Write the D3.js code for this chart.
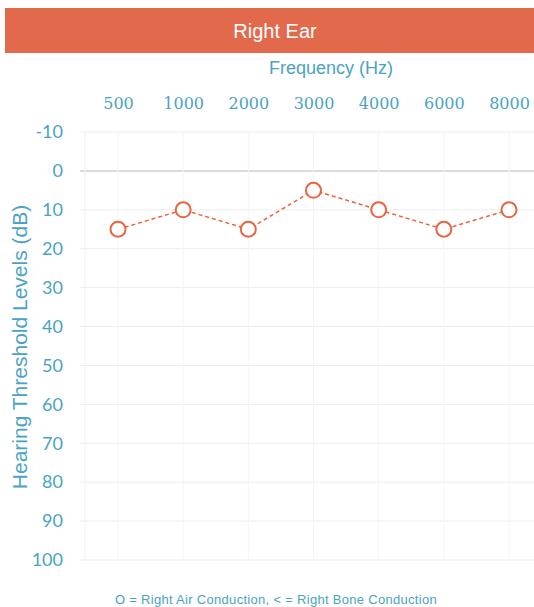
<!DOCTYPE html>
<html>
<head>
<meta charset="utf-8">
<script src="https://cdn.jsdelivr.net/npm/d3@7"></script>
<style>
  body { margin: 0; background: #fff; }
  svg { display: block; }
</style>
</head>
<body>
<div id="container"></div>
<script>
const frequencies = ['500', '1000', '2000', '3000', '4000', '6000', '8000'];
const airConduction = [15, 10, 15, 5, 10, 15, 10];
const dbTicks = [-10, 0, 10, 20, 30, 40, 50, 60, 70, 80, 90, 100];

const w = 534;
const h = 607;
const blue = '#4aa3c4';
const red = '#e8643f';

const svg = d3.select('#container').append('svg')
  .attr('width', w)
  .attr('height', h);

// title bar
svg.append('rect')
  .attr('x', 5).attr('y', 8)
  .attr('width', w - 5).attr('height', 45)
  .attr('fill', '#e2694c');
svg.append('text')
  .attr('x', 275).attr('y', 38)
  .attr('text-anchor', 'middle')
  .attr('fill', '#fff')
  .style('font', '20px "Liberation Sans", Arial, sans-serif')
  .text('Right Ear');

svg.append('text')
  .attr('x', 331).attr('y', 74)
  .attr('text-anchor', 'middle')
  .attr('fill', blue)
  .style('font', '18px "Liberation Sans", Arial, sans-serif')
  .text('Frequency (Hz)');

const x = d3.scalePoint()
  .domain(frequencies)
  .range([118, 509]);

const y = d3.scaleLinear()
  .domain([-10, 100])
  .range([132, 560]);

// grid
svg.append('g')
  .selectAll('line')
  .data(dbTicks)
  .enter()
  .append('line')
  .attr('x1', 80).attr('x2', w)
  .attr('y1', d => y(d)).attr('y2', d => y(d))
  .attr('stroke', d => d === 0 ? '#cfcfcf' : '#ececec')
  .attr('stroke-width', d => d === 0 ? 1.5 : 1);

svg.append('g')
  .selectAll('line')
  .data(frequencies)
  .enter()
  .append('line')
  .attr('x1', d => x(d)).attr('x2', d => x(d))
  .attr('y1', y(-10)).attr('y2', y(100))
  .attr('stroke', '#f4f4f4');

svg.append('line')
  .attr('x1', 85).attr('x2', 85)
  .attr('y1', y(-10)).attr('y2', y(100))
  .attr('stroke', '#f0f0f0');

// x axis labels on top
const xAxis = svg.append('g')
  .attr('transform', 'translate(0,109)')
  .call(d3.axisTop(x).tickSize(0).tickPadding(0));
xAxis.select('.domain').remove();
xAxis.selectAll('text')
  .attr('fill', blue)
  .style('font', '16px "DejaVu Serif", serif');

// y axis labels
const yAxis = svg.append('g')
  .attr('transform', 'translate(63,0)')
  .call(d3.axisLeft(y).tickValues(dbTicks).tickSize(0).tickPadding(0)
    .tickFormat(d => String(d)));
yAxis.select('.domain').remove();
yAxis.selectAll('text')
  .attr('fill', blue)
  .style('font', '18px Lato, sans-serif');

svg.append('text')
  .attr('transform', 'translate(27,347) rotate(-90)')
  .attr('text-anchor', 'middle')
  .attr('fill', blue)
  .style('font', '21px "Liberation Sans", Arial, sans-serif')
  .text('Hearing Threshold Levels (dB)');

// air conduction line
const line = d3.line()
  .x((d, i) => x(frequencies[i]))
  .y(d => y(d));

svg.append('path')
  .datum(airConduction)
  .attr('d', line)
  .attr('fill', 'none')
  .attr('stroke', red)
  .attr('stroke-width', 1.5)
  .attr('stroke-dasharray', '4,3');

svg.append('g')
  .selectAll('circle')
  .data(airConduction)
  .enter()
  .append('circle')
  .attr('cx', (d, i) => x(frequencies[i]))
  .attr('cy', d => y(d))
  .attr('r', 7.5)
  .attr('fill', '#fff')
  .attr('stroke', red)
  .attr('stroke-width', 2);

svg.append('text')
  .attr('x', 276).attr('y', 604)
  .attr('text-anchor', 'middle')
  .attr('fill', blue)
  .style('font', '13px "Liberation Sans", Arial, sans-serif')
  .style('letter-spacing', '0.3px')
  .text('O = Right Air Conduction,  < = Right Bone Conduction');
</script>
</body>
</html>
